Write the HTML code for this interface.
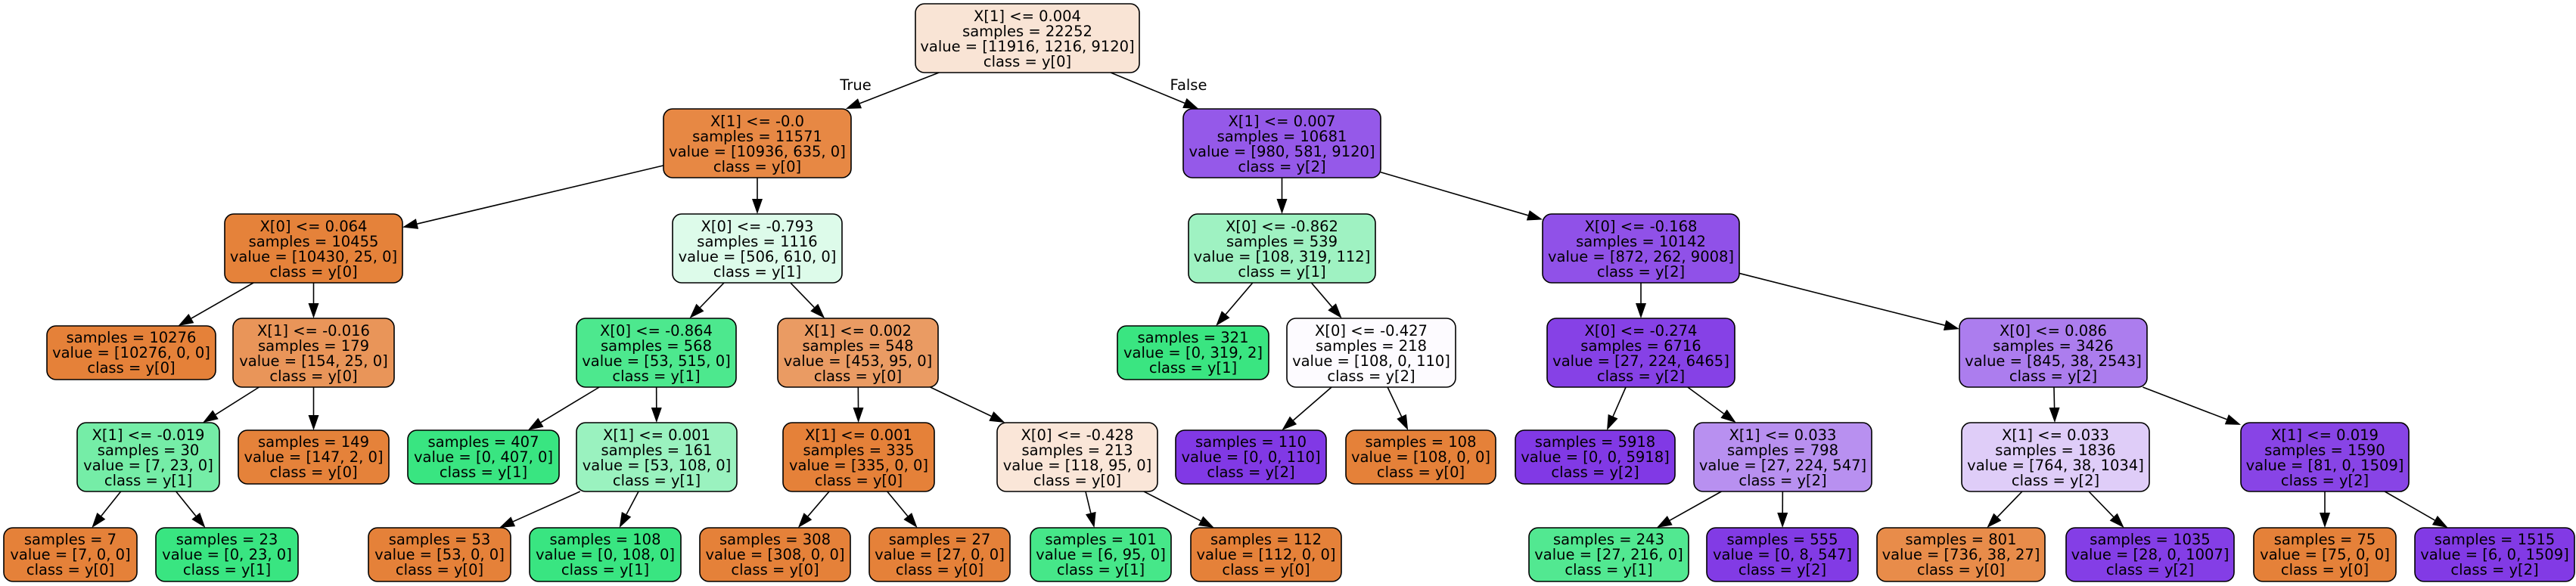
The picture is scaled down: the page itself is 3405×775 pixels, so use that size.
<!DOCTYPE html>
<html><head><meta charset="utf-8"><style>
html,body{margin:0;padding:0;background:#fff;width:3405px;height:775px;overflow:hidden}
svg{display:block}
text{font-family:"DejaVu Sans","Liberation Sans",sans-serif;font-size:19.5px;fill:#000;text-anchor:middle}
</style></head><body>
<svg id="s" width="3405" height="775" viewBox="0 0 3405 775" xmlns="http://www.w3.org/2000/svg">
<g id="shapes"></g>
<g id="labels">
<text x="1358" y="28">X[1] &lt;= 0.004<tspan x="1358" dy="20">samples = 22252</tspan><tspan x="1358" dy="20">value = [11916, 1216, 9120]</tspan><tspan x="1358" dy="20">class = y[0]</tspan></text>
<text x="1131" y="119">True</text>
<text x="1571" y="119">False</text>
<text x="1001" y="167">X[1] &lt;= -0.0<tspan x="1001" dy="20">samples = 11571</tspan><tspan x="1001" dy="20">value = [10936, 635, 0]</tspan><tspan x="1001" dy="20">class = y[0]</tspan></text>
<text x="1694.5" y="167">X[1] &lt;= 0.007<tspan x="1694.5" dy="20">samples = 10681</tspan><tspan x="1694.5" dy="20">value = [980, 581, 9120]</tspan><tspan x="1694.5" dy="20">class = y[2]</tspan></text>
<text x="414.5" y="306">X[0] &lt;= 0.064<tspan x="414.5" dy="20">samples = 10455</tspan><tspan x="414.5" dy="20">value = [10430, 25, 0]</tspan><tspan x="414.5" dy="20">class = y[0]</tspan></text>
<text x="1001" y="306">X[0] &lt;= -0.793<tspan x="1001" dy="20">samples = 1116</tspan><tspan x="1001" dy="20">value = [506, 610, 0]</tspan><tspan x="1001" dy="20">class = y[1]</tspan></text>
<text x="1694.5" y="306">X[0] &lt;= -0.862<tspan x="1694.5" dy="20">samples = 539</tspan><tspan x="1694.5" dy="20">value = [108, 319, 112]</tspan><tspan x="1694.5" dy="20">class = y[1]</tspan></text>
<text x="2169" y="306">X[0] &lt;= -0.168<tspan x="2169" dy="20">samples = 10142</tspan><tspan x="2169" dy="20">value = [872, 262, 9008]</tspan><tspan x="2169" dy="20">class = y[2]</tspan></text>
<text x="173.5" y="453">samples = 10276<tspan x="173.5" dy="20">value = [10276, 0, 0]</tspan><tspan x="173.5" dy="20">class = y[0]</tspan></text>
<text x="414.5" y="444">X[1] &lt;= -0.016<tspan x="414.5" dy="20">samples = 179</tspan><tspan x="414.5" dy="20">value = [154, 25, 0]</tspan><tspan x="414.5" dy="20">class = y[0]</tspan></text>
<text x="867.5" y="444">X[0] &lt;= -0.864<tspan x="867.5" dy="20">samples = 568</tspan><tspan x="867.5" dy="20">value = [53, 515, 0]</tspan><tspan x="867.5" dy="20">class = y[1]</tspan></text>
<text x="1134" y="444">X[1] &lt;= 0.002<tspan x="1134" dy="20">samples = 548</tspan><tspan x="1134" dy="20">value = [453, 95, 0]</tspan><tspan x="1134" dy="20">class = y[0]</tspan></text>
<text x="1577" y="453">samples = 321<tspan x="1577" dy="20">value = [0, 319, 2]</tspan><tspan x="1577" dy="20">class = y[1]</tspan></text>
<text x="1812.5" y="444">X[0] &lt;= -0.427<tspan x="1812.5" dy="20">samples = 218</tspan><tspan x="1812.5" dy="20">value = [108, 0, 110]</tspan><tspan x="1812.5" dy="20">class = y[2]</tspan></text>
<text x="2169" y="444">X[0] &lt;= -0.274<tspan x="2169" dy="20">samples = 6716</tspan><tspan x="2169" dy="20">value = [27, 224, 6465]</tspan><tspan x="2169" dy="20">class = y[2]</tspan></text>
<text x="2714" y="444">X[0] &lt;= 0.086<tspan x="2714" dy="20">samples = 3426</tspan><tspan x="2714" dy="20">value = [845, 38, 2543]</tspan><tspan x="2714" dy="20">class = y[2]</tspan></text>
<text x="196" y="582">X[1] &lt;= -0.019<tspan x="196" dy="20">samples = 30</tspan><tspan x="196" dy="20">value = [7, 23, 0]</tspan><tspan x="196" dy="20">class = y[1]</tspan></text>
<text x="414.5" y="591">samples = 149<tspan x="414.5" dy="20">value = [147, 2, 0]</tspan><tspan x="414.5" dy="20">class = y[0]</tspan></text>
<text x="639" y="591">samples = 407<tspan x="639" dy="20">value = [0, 407, 0]</tspan><tspan x="639" dy="20">class = y[1]</tspan></text>
<text x="868" y="582">X[1] &lt;= 0.001<tspan x="868" dy="20">samples = 161</tspan><tspan x="868" dy="20">value = [53, 108, 0]</tspan><tspan x="868" dy="20">class = y[1]</tspan></text>
<text x="1135" y="582">X[1] &lt;= 0.001<tspan x="1135" dy="20">samples = 335</tspan><tspan x="1135" dy="20">value = [335, 0, 0]</tspan><tspan x="1135" dy="20">class = y[0]</tspan></text>
<text x="1424" y="582">X[0] &lt;= -0.428<tspan x="1424" dy="20">samples = 213</tspan><tspan x="1424" dy="20">value = [118, 95, 0]</tspan><tspan x="1424" dy="20">class = y[0]</tspan></text>
<text x="1653.5" y="591">samples = 110<tspan x="1653.5" dy="20">value = [0, 0, 110]</tspan><tspan x="1653.5" dy="20">class = y[2]</tspan></text>
<text x="1878" y="591">samples = 108<tspan x="1878" dy="20">value = [108, 0, 0]</tspan><tspan x="1878" dy="20">class = y[0]</tspan></text>
<text x="2108.5" y="591">samples = 5918<tspan x="2108.5" dy="20">value = [0, 0, 5918]</tspan><tspan x="2108.5" dy="20">class = y[2]</tspan></text>
<text x="2356.5" y="582">X[1] &lt;= 0.033<tspan x="2356.5" dy="20">samples = 798</tspan><tspan x="2356.5" dy="20">value = [27, 224, 547]</tspan><tspan x="2356.5" dy="20">class = y[2]</tspan></text>
<text x="2717" y="582">X[1] &lt;= 0.033<tspan x="2717" dy="20">samples = 1836</tspan><tspan x="2717" dy="20">value = [764, 38, 1034]</tspan><tspan x="2717" dy="20">class = y[2]</tspan></text>
<text x="3073" y="582">X[1] &lt;= 0.019<tspan x="3073" dy="20">samples = 1590</tspan><tspan x="3073" dy="20">value = [81, 0, 1509]</tspan><tspan x="3073" dy="20">class = y[2]</tspan></text>
<text x="93" y="720">samples = 7<tspan x="93" dy="20">value = [7, 0, 0]</tspan><tspan x="93" dy="20">class = y[0]</tspan></text>
<text x="300" y="720">samples = 23<tspan x="300" dy="20">value = [0, 23, 0]</tspan><tspan x="300" dy="20">class = y[1]</tspan></text>
<text x="581" y="720">samples = 53<tspan x="581" dy="20">value = [53, 0, 0]</tspan><tspan x="581" dy="20">class = y[0]</tspan></text>
<text x="800" y="720">samples = 108<tspan x="800" dy="20">value = [0, 108, 0]</tspan><tspan x="800" dy="20">class = y[1]</tspan></text>
<text x="1024.5" y="720">samples = 308<tspan x="1024.5" dy="20">value = [308, 0, 0]</tspan><tspan x="1024.5" dy="20">class = y[0]</tspan></text>
<text x="1242" y="720">samples = 27<tspan x="1242" dy="20">value = [27, 0, 0]</tspan><tspan x="1242" dy="20">class = y[0]</tspan></text>
<text x="1455" y="720">samples = 101<tspan x="1455" dy="20">value = [6, 95, 0]</tspan><tspan x="1455" dy="20">class = y[1]</tspan></text>
<text x="1673.5" y="720">samples = 112<tspan x="1673.5" dy="20">value = [112, 0, 0]</tspan><tspan x="1673.5" dy="20">class = y[0]</tspan></text>
<text x="2126.5" y="720">samples = 243<tspan x="2126.5" dy="20">value = [27, 216, 0]</tspan><tspan x="2126.5" dy="20">class = y[1]</tspan></text>
<text x="2356" y="720">samples = 555<tspan x="2356" dy="20">value = [0, 8, 547]</tspan><tspan x="2356" dy="20">class = y[2]</tspan></text>
<text x="2592" y="720">samples = 801<tspan x="2592" dy="20">value = [736, 38, 27]</tspan><tspan x="2592" dy="20">class = y[0]</tspan></text>
<text x="2842" y="720">samples = 1035<tspan x="2842" dy="20">value = [28, 0, 1007]</tspan><tspan x="2842" dy="20">class = y[2]</tspan></text>
<text x="3073" y="720">samples = 75<tspan x="3073" dy="20">value = [75, 0, 0]</tspan><tspan x="3073" dy="20">class = y[0]</tspan></text>
<text x="3297.5" y="720">samples = 1515<tspan x="3297.5" dy="20">value = [6, 0, 1509]</tspan><tspan x="3297.5" dy="20">class = y[2]</tspan></text>
</g>
</svg>
<script>
var O='#e58139',G='#39e581',P='#8139e5';
var N={
root:[1210,1506,5,91,'#f9e4d5'],A:[877,1125,144,91,'#e78844'],B:[1564,1825,144,91,'#9559e9'],
C:[297,532,283,91,'#e5823a'],D:[889,1113,283,91,'#ddfbea'],E:[1571,1818,283,91,'#9ff2c2'],F:[2039,2299,283,91,'#9051e8'],
l10276:[62,285,431,71,O],Gn:[308,521,421,91,'#e99559'],H:[762,973,421,91,'#4de88e'],I:[1028,1240,421,91,'#ea9b63'],
l321:[1477,1677,431,71,'#3ae581'],J:[1701,1924,421,91,'#fdfbff'],K:[2045,2293,421,91,'#8641e6'],L:[2590,2838,421,91,'#ac7dee'],
M:[102,290,559,91,'#75eda7'],l149:[315,514,569,71,'#e5823a'],l407:[539,739,569,71,G],Nn:[762,974,559,91,'#9af2bf'],
On:[1035,1235,559,91,O],Pn:[1318,1530,559,91,'#fae6d8'],l110:[1554,1753,569,71,P],l108:[1779,1977,569,71,O],
l5918:[2003,2214,569,71,P],Q:[2239,2474,559,91,'#b890f0'],R:[2593,2841,559,91,'#dfcdf8'],S:[2962,3184,559,91,'#8844e6'],
a7:[5,181,698,71,O],a23:[206,394,698,71,G],a53:[487,675,698,71,O],a108:[700,900,698,71,G],a308:[925,1124,698,71,O],
a27:[1149,1335,698,71,O],a101:[1362,1548,698,71,'#46e789'],a112:[1574,1773,698,71,O],a243:[2021,2232,698,71,'#52e891'],
a555:[2256,2456,698,71,'#823be5'],a801:[2481,2703,698,71,'#e88c4a'],a1035:[2731,2953,698,71,'#843ee6'],
a75:[2979,3167,698,71,O],a1515:[3192,3403,698,71,'#823ae5']};
var E=[['root','A'],['root','B'],['A','C'],['A','D'],['B','E'],['B','F'],['C','l10276'],['C','Gn'],['D','H'],['D','I'],
['E','l321'],['E','J'],['F','K'],['F','L'],['Gn','M'],['Gn','l149'],['H','l407'],['H','Nn'],['I','On'],['I','Pn'],
['J','l110'],['J','l108'],['K','l5918'],['K','Q'],['L','R'],['L','S'],['M','a7'],['M','a23'],['Nn','a53'],['Nn','a108'],
['On','a308'],['On','a27'],['Pn','a101'],['Pn','a112'],['Q','a243'],['Q','a555'],['R','a801'],['R','a1035'],['S','a75'],['S','a1515']];
var ns='http://www.w3.org/2000/svg',g=document.getElementById('shapes'),h='';
function c(n){var b=N[n];return [(b[0]+b[1])/2,b[2]+b[3]/2];}
function clip(n,x0,y0,dx,dy){var b=N[n],hw=(b[1]-b[0])/2,hh=b[3]/2,t=Math.min(Math.abs(hw/dx)||1e9,Math.abs(hh/dy)||1e9);return [x0+dx*t,y0+dy*t];}
E.forEach(function(e){var p=c(e[0]),q=c(e[1]),dx=q[0]-p[0],dy=q[1]-p[1];
var s=clip(e[0],p[0],p[1],dx,dy),t=clip(e[1],q[0],q[1],-dx,-dy);
var L=Math.hypot(t[0]-s[0],t[1]-s[1]),ux=(t[0]-s[0])/L,uy=(t[1]-s[1])/L,al=20,aw=7;
var bx=t[0]-ux*al,by=t[1]-uy*al;
h+='<line x1="'+s[0]+'" y1="'+s[1]+'" x2="'+bx+'" y2="'+by+'" stroke="#000" stroke-width="1.6"/>';
h+='<polygon points="'+t[0]+','+t[1]+' '+(bx-uy*aw)+','+(by+ux*aw)+' '+(bx+uy*aw)+','+(by-ux*aw)+'" fill="#000"/>';});
for(var k in N){var b=N[k];h+='<rect x="'+b[0]+'" y="'+b[2]+'" width="'+(b[1]-b[0])+'" height="'+b[3]+'" rx="12" ry="12" fill="'+b[4]+'" stroke="#000" stroke-width="1.6"/>';}
g.innerHTML=h;
</script>
</body></html>
